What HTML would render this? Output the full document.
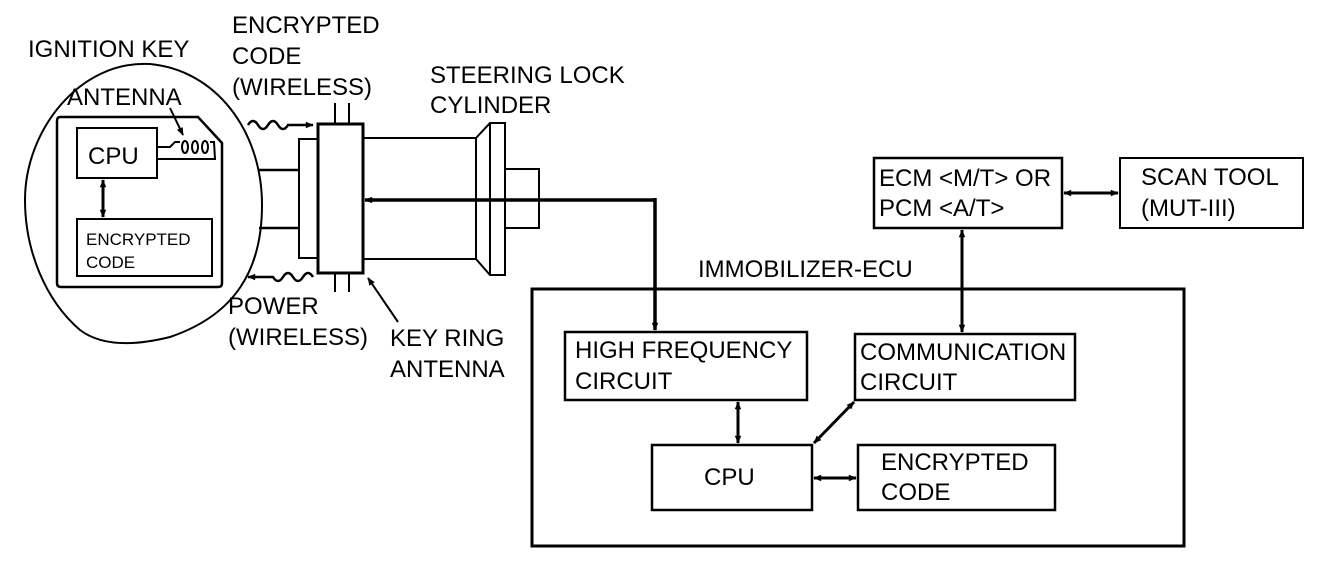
<!DOCTYPE html>
<html><head><meta charset="utf-8"><style>
html,body{margin:0;padding:0;background:#fff;}
svg{display:block;}
text{font-family:"Liberation Sans",sans-serif;font-size:24px;fill:#000;}
</style></head><body>
<svg width="1328" height="568" viewBox="0 0 1328 568" xmlns="http://www.w3.org/2000/svg">
<defs>
<marker id="ah" viewBox="0 0 10 10" refX="9" refY="5" markerWidth="10" markerHeight="8" markerUnits="userSpaceOnUse" orient="auto-start-reverse"><path d="M0,1 L10,5 L0,9 z" fill="#000"/></marker>
</defs>
<g fill="none" stroke="#000" stroke-width="2">
<path d="M150,64 C215,70 262,130 262,205 C262,270 235,315 170,337 C130,347 100,345 80,330 C45,300 25,250 25,200 C25,130 80,60 150,64 Z"/>
<path d="M60,117 L198,117 L222,143 L222,283 Q222,287 218,287 L61,287 Q57,287 57,283 L57,121 Q57,117 60,117 Z" stroke-width="2.5"/>
<rect x="77" y="128" width="80" height="50"/>
<rect x="77" y="219" width="135" height="57"/>
<path d="M157,147 L170,147 L175,142 L180,142"/>
<ellipse cx="185" cy="147" rx="3" ry="6"/>
<ellipse cx="195" cy="147" rx="3" ry="6"/>
<ellipse cx="205" cy="147" rx="3" ry="6"/>
<path d="M210,142 L214,142 L215,159 L157,159"/>
<path d="M259,170 L299,170 M259,228 L299,228" stroke-width="2.5"/>
<rect x="299" y="139" width="19" height="119"/>
<rect x="318" y="124" width="45" height="149" stroke-width="3"/>
<path d="M335,103 L335,124 M349,103 L349,124 M335,273 L335,292 M349,273 L349,292"/>
<path d="M363,138 L476,138 M363,259 L476,259"/>
<path d="M476,138 L490,123 L505,123 L505,275 L490,275 L476,259 Z M476,138 L476,259 M490,123 L490,275"/>
<rect x="505" y="169" width="34" height="59"/>
<rect x="532" y="289" width="652" height="257" stroke-width="3"/>
<rect x="565" y="332" width="242" height="68" stroke-width="2.5"/>
<rect x="855" y="334" width="220" height="66" stroke-width="2.5"/>
<rect x="652" y="445" width="160" height="65" stroke-width="2.5"/>
<rect x="858" y="445" width="197" height="65" stroke-width="2.5"/>
<rect x="874" y="158" width="188" height="70" stroke-width="2.5"/>
<rect x="1120" y="158" width="183" height="70"/>
</g>
<g fill="none" stroke="#000" stroke-width="3">
<path d="M655,200 L365,200" marker-end="url(#ah)" stroke-width="3.5"/>
<path d="M655,198 L655,330" marker-end="url(#ah)" stroke-width="3.5"/>
<path d="M103,180 L103,217" marker-start="url(#ah)" marker-end="url(#ah)"/>
<path d="M962,230 L962,332" marker-start="url(#ah)" marker-end="url(#ah)"/>
<path d="M1064,193 L1118,193" marker-start="url(#ah)" marker-end="url(#ah)"/>
<path d="M738,402 L738,443" marker-start="url(#ah)" marker-end="url(#ah)"/>
<path d="M854,402 L814,443" marker-start="url(#ah)" marker-end="url(#ah)"/>
<path d="M814,478 L856,478" marker-start="url(#ah)" marker-end="url(#ah)"/>
<path d="M248,125 q5,-8 10,0 q5,8 10,0 q5,-8 10,0 q5,8 10,0 L313,125" marker-end="url(#ah)" stroke-width="2.5"/>
<path d="M313,277 q-5,-8 -10,0 q-5,8 -10,0 q-5,-8 -10,0 q-5,8 -10,0 L248,277" marker-end="url(#ah)" stroke-width="2.5"/>
<path d="M170,108 L183,135" marker-end="url(#ah)" stroke-width="2"/>
<path d="M398,322 L368,278" marker-end="url(#ah)" stroke-width="2"/>
</g>
<text x="28" y="57">IGNITION KEY</text>
<text x="67" y="105">ANTENNA</text>
<text x="88" y="164">CPU</text>
<text x="86" y="245" style="font-size:17px">ENCRYPTED</text>
<text x="86" y="268" style="font-size:17px">CODE</text>
<text x="232" y="33">ENCRYPTED</text>
<text x="232" y="64">CODE</text>
<text x="232" y="95">(WIRELESS)</text>
<text x="430" y="83">STEERING LOCK</text>
<text x="430" y="113">CYLINDER</text>
<text x="228" y="314">POWER</text>
<text x="228" y="345">(WIRELESS)</text>
<text x="390" y="346">KEY RING</text>
<text x="390" y="377">ANTENNA</text>
<text x="698" y="277">IMMOBILIZER-ECU</text>
<text x="575" y="358">HIGH FREQUENCY</text>
<text x="575" y="389">CIRCUIT</text>
<text x="860" y="360">COMMUNICATION</text>
<text x="860" y="390">CIRCUIT</text>
<text x="704" y="485">CPU</text>
<text x="881" y="470">ENCRYPTED</text>
<text x="881" y="500">CODE</text>
<text x="879" y="186">ECM &lt;M/T&gt; OR</text>
<text x="879" y="216">PCM &lt;A/T&gt;</text>
<text x="1141" y="185">SCAN TOOL</text>
<text x="1141" y="216">(MUT-III)</text>
</svg>
</body></html>
